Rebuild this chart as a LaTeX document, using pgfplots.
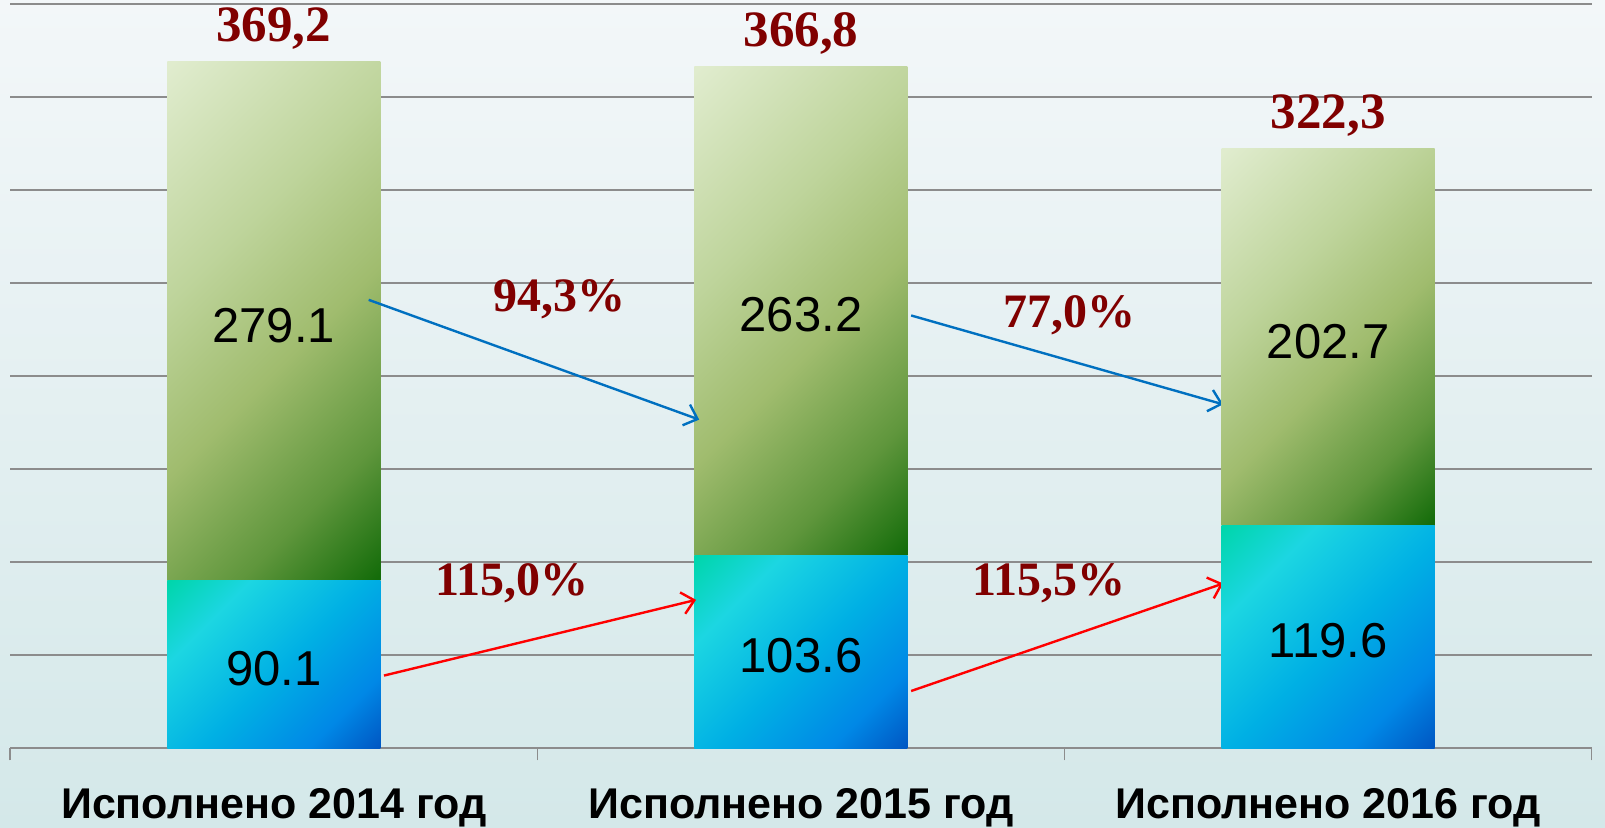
\documentclass[border=0pt]{standalone}
\usepackage{pgfplots}
\pgfplotsset{compat=1.18}
\usepackage{fontspec}
\setmainfont{Liberation Sans}
\newfontfamily\timesfont{Liberation Serif}
\usetikzlibrary{arrows.meta}

\definecolor{gridgray}{RGB}{140,140,140}
\definecolor{darkred}{RGB}{128,0,0}
\definecolor{arrblue}{RGB}{0,112,192}
\definecolor{arrred}{RGB}{255,0,0}
\definecolor{bgtop}{RGB}{243,247,249}
\definecolor{bgmid}{RGB}{228,238,242}
\definecolor{bgbot}{RGB}{212,232,233}

\pgfdeclarehorizontalshading{greenbar}{100bp}{%
  color(0bp)=(rgb,255:red,224;green,236;blue,206);
  color(15bp)=(rgb,255:red,224;green,236;blue,206);
  color(38bp)=(rgb,255:red,190;green,212;blue,155);
  color(55bp)=(rgb,255:red,160;green,188;blue,110);
  color(72bp)=(rgb,255:red,95;green,150;blue,60);
  color(85bp)=(rgb,255:red,20;green,108;blue,10);
  color(100bp)=(rgb,255:red,20;green,108;blue,10)}
\pgfdeclarehorizontalshading{bluebar}{100bp}{%
  color(0bp)=(rgb,255:red,0;green,214;blue,172);
  color(15bp)=(rgb,255:red,0;green,214;blue,172);
  color(30bp)=(rgb,255:red,28;green,214;blue,226);
  color(52bp)=(rgb,255:red,0;green,176;blue,228);
  color(72bp)=(rgb,255:red,0;green,136;blue,230);
  color(85bp)=(rgb,255:red,0;green,88;blue,196);
  color(100bp)=(rgb,255:red,0;green,88;blue,196)}

\pgfdeclarelayer{bg}
\pgfsetlayers{bg,main}

\pgfplotsset{
  common/.style={
    scale only axis,
    width=790.75pt, height=372pt,
    xmin=-0.5, xmax=2.5, ymin=0, ymax=400,
    ybar stacked, bar width=106.5pt,
    clip=false,
  },
  segment/.style={
    draw=none, shade, shading angle=-45,
    point meta=explicit,
    nodes near coords={\pgfmathprintnumber[fixed,fixed zerofill,precision=1,assume math mode=true]{\pgfplotspointmeta}},
    every node near coord/.append style={font=\fontsize{24.5}{28}\selectfont, text=black, anchor=center, yshift=-2pt},
  },
  bottompart/.style={segment, shading=bluebar},
  toppart/.style={segment, shading=greenbar},
}
\tikzset{
  tot/.style={font=\timesfont\bfseries\fontsize{25.5}{28}\selectfont, text=darkred, anchor=base, yshift=10pt},
  pct/.style={font=\timesfont\bfseries\fontsize{24}{28}\selectfont, text=darkred, anchor=base},
  arr/.style={line width=1.2pt, -{Straight Barb[length=6pt,width=11pt]}},
}

\begin{document}
\begin{tikzpicture}
% axis with grid, ticks, labels + first year
\begin{axis}[
  common,
  axis x line*=bottom, axis y line*=left,
  x axis line style={gridgray, line width=0.75pt},
  y axis line style={draw=none},
  xtick={0,1,2},
  xticklabels={Исполнено 2014 год, Исполнено 2015 год, Исполнено 2016 год},
  major tick length=0pt,
  tick align=outside,
  xtick style={gridgray, line width=0.75pt},
  extra x ticks={-0.5,0.5,1.5,2.5},
  extra x tick labels={},
  extra x tick style={major tick length=6pt},
  xticklabel style={font=\fontsize{21.5}{26}\selectfont\bfseries, anchor=base, yshift=-35.35pt},
  ytick={0,50,...,400}, yticklabels={},
  ytick style={draw=none},
  ymajorgrids, grid style={gridgray, line width=1pt},
]
  \addplot[bottompart] coordinates {(0,90.1) [90.1]};
  \addplot[toppart] coordinates {(0,279.1) [279.1]};
  \node[tot] at (axis cs:0,369.2) {369,2};
\end{axis}
% second year
\begin{axis}[common, hide axis]
  \addplot[bottompart] coordinates {(1,103.6) [103.6]};
  \addplot[toppart] coordinates {(1,263.2) [263.2]};
  \node[tot] at (axis cs:1,366.8) {366,8};
\end{axis}
% third year, arrows and growth rates
\begin{axis}[common, hide axis]
  \addplot[bottompart] coordinates {(2,119.6) [119.6]};
  \addplot[toppart] coordinates {(2,202.7) [202.7]};
  \node[tot] at (axis cs:2,322.3) {322,3};

  \draw[arr, arrblue] (axis cs:0.180,241.1) -- (axis cs:0.807,176.7);
  \draw[arr, arrblue] (axis cs:1.209,232.7) -- (axis cs:1.801,184.9);
  \draw[arr, arrred] (axis cs:0.209,39.1) -- (axis cs:0.801,79.8);
  \draw[arr, arrred] (axis cs:1.209,30.8) -- (axis cs:1.801,88.6);

  \node[pct] at (axis cs:0.542,234.6) {94,3\%};
  \node[pct] at (axis cs:1.510,226.2) {77,0\%};
  \node[pct] at (axis cs:0.452,82.0) {115,0\%};
  \node[pct] at (axis cs:1.471,82.0) {115,5\%};
\end{axis}
\begin{pgfonlayer}{bg}
  \shade[top color=bgtop, middle color=bgmid, bottom color=bgbot]
    ([shift={(-5.1pt,-39.85pt)}]current axis.south west) rectangle ([shift={(6.65pt,2.15pt)}]current axis.north east);
\end{pgfonlayer}
\pgfresetboundingbox
\path ([shift={(-5.1pt,-39.85pt)}]current axis.south west) rectangle ([shift={(6.65pt,2.15pt)}]current axis.north east);
\end{tikzpicture}
\end{document}
